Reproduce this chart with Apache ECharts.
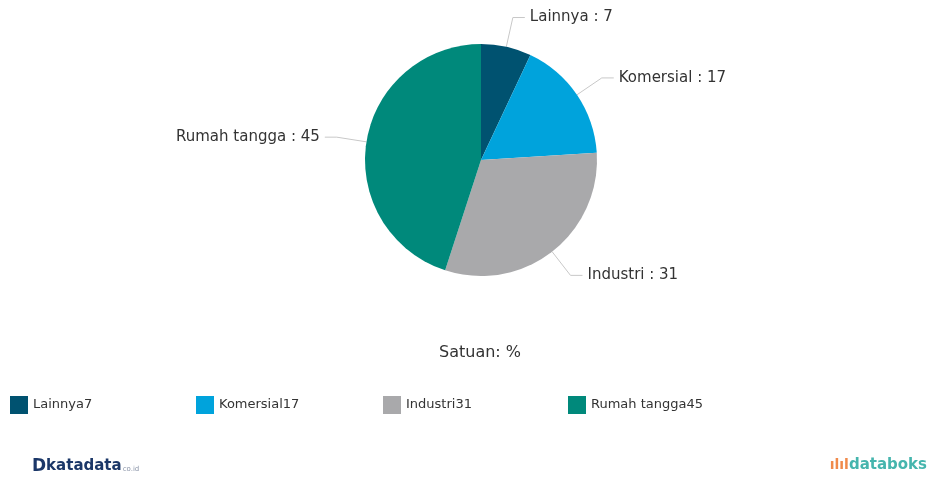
<!DOCTYPE html>
<html>
<head>
<meta charset="utf-8">
<script src="https://cdn.jsdelivr.net/npm/echarts@6/dist/echarts.min.js"></script>
<style>
  html, body { margin: 0; padding: 0; background: #fff; }
  #main { width: 930px; height: 477px; }
</style>
</head>
<body>
<div id="main"></div>
<script>
  // data
  var categories = ['Lainnya', 'Komersial', 'Industri', 'Rumah tangga'];
  var values = [7, 17, 31, 45];
  var colors = ['#005270', '#00a3dc', '#a9a9ab', '#00897b'];
  var legendLeft = [10, 196, 383, 568];

  var myChart = echarts.init(document.getElementById('main'));

  var pieData = categories.map(function (name, i) {
    return { name: name, value: values[i], itemStyle: { color: colors[i] } };
  });

  // one legend per item so the spacing stays fixed
  var legends = categories.map(function (name, i) {
    return {
      data: [name],
      left: legendLeft[i],
      top: 396,
      padding: 0,
      icon: 'rect',
      itemWidth: 18,
      itemHeight: 18,
      selectedMode: false,
      textStyle: { fontFamily: 'DejaVu Sans', fontSize: 13, color: '#333' },
      formatter: function (n) { return n + values[categories.indexOf(n)]; }
    };
  });

  var option = {
    animation: false,
    legend: legends,
    title: {
      text: 'Satuan: %',
      left: 480,
      top: 345,
      padding: 0,
      textAlign: 'center',
      textStyle: { fontFamily: 'DejaVu Sans', fontSize: 16, fontWeight: 'normal', color: '#333' }
    },
    series: [
      {
        type: 'pie',
        center: [481, 160],
        radius: 116,
        startAngle: 90,
        data: pieData,
        label: {
          formatter: '{b} : {c}',
          fontFamily: 'DejaVu Sans',
          fontSize: 15,
          color: '#333'
        },
        labelLine: {
          length: 30,
          length2: 12,
          lineStyle: { color: '#c8c8c8', width: 1 }
        }
      }
    ],
    graphic: [
      {
        type: 'text',
        left: 32,
        top: 458,
        style: {
          text: '{d|D}{k|katadata}{c|co.id}',
          rich: {
            d: { fontFamily: 'DejaVu Sans', fontSize: 17, fontWeight: 'bold', fill: '#1b3768' },
            k: { fontFamily: 'DejaVu Sans', fontSize: 15, fontWeight: 'bold', fill: '#1b3768' },
            c: { fontFamily: 'DejaVu Sans', fontSize: 7, fill: '#8a94a8', padding: [6, 0, 0, 1] }
          }
        }
      },
      {
        type: 'text',
        right: 3,
        top: 458,
        style: {
          text: '{i|ılıl}{t|databoks}',
          rich: {
            i: { fontFamily: 'DejaVu Sans', fontSize: 14, fontWeight: 'bold', fill: '#f08a4b' },
            t: { fontFamily: 'DejaVu Sans', fontSize: 15, fontWeight: 'bold', fill: '#45b5ad' }
          }
        }
      }
    ]
  };

  myChart.setOption(option);
</script>
</body>
</html>
